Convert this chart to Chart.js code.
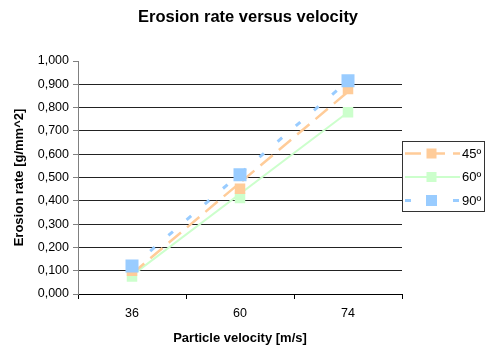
<!DOCTYPE html>
<html>
<head>
<meta charset="utf-8">
<script src="https://cdn.jsdelivr.net/npm/chart.js@4/dist/chart.umd.min.js"></script>
<style>
  html, body { margin: 0; padding: 0; background: #fff; }
  #wrap { width: 485px; height: 350px; position: relative; }
</style>
</head>
<body>
<div id="wrap"><canvas id="chart"></canvas></div>
<script>
const chartTitle = 'Erosion rate versus velocity';
const xTitle = 'Particle velocity [m/s]';
const yTitle = 'Erosion rate [g/mm^2]';

const velocities = ['36', '60', '74'];
const seriesNames = ['45º', '60º', '90º'];

// measured points
const rate45 = [0.100, 0.452, 0.880];
const rate60 = [0.075, 0.412, 0.780];
const rate90 = [0.120, 0.512, 0.915];

// linear trendline ends (middle left empty)
const trend45 = [0.087, null, 0.868];
const trend60 = [0.080, null, 0.780];
const trend90 = [0.117, null, 0.914];

const yMin = 0, yMax = 1, yStep = 0.1;

const colors = ['#FFCC99', '#CCFFCC', '#99CCFF'];
const dashes = [[16, 8], [], [6, 18]];
const lineWidths = [2.5, 2, 3];
const markerSizes = [10.5, 10.5, 13];

const FONT = '"Liberation Sans", Arial, sans-serif';

function markerSet(i, data, order) {
    return {
        label: seriesNames[i],
        data: data,
        showLine: false,
        pointStyle: 'rect',
        pointRadius: markerSizes[i] / (2 * Math.SQRT1_2),
        pointHoverRadius: markerSizes[i] / (2 * Math.SQRT1_2),
        backgroundColor: colors[i],
        borderColor: colors[i],
        borderWidth: 0,
        order: order
    };
}

function trendSet(i, data) {
    return {
        label: seriesNames[i] + ' trend',
        data: data,
        pointRadius: 0,
        borderColor: colors[i],
        borderWidth: lineWidths[i],
        borderDash: dashes[i],
        spanGaps: true,
        tension: 0,
        fill: false,
        order: 10
    };
}

const extras = {
    id: 'extras',
    afterDraw(chart) {
        const ctx = chart.ctx;
        ctx.save();
        // title
        ctx.fillStyle = '#000';
        ctx.font = 'bold 16.5px ' + FONT;
        ctx.textAlign = 'center';
        ctx.textBaseline = 'alphabetic';
        ctx.fillText(chartTitle, 248, 22);

        // legend box
        ctx.strokeStyle = '#333';
        ctx.lineWidth = 1;
        ctx.strokeRect(402.5, 141.5, 82, 70);

        const rows = [153.5, 177, 200.5];
        ctx.font = '13px ' + FONT;
        ctx.textAlign = 'left';
        ctx.textBaseline = 'middle';
        rows.forEach((y, i) => {
            ctx.beginPath();
            ctx.setLineDash(dashes[i]);
            ctx.strokeStyle = colors[i];
            ctx.lineWidth = lineWidths[i];
            ctx.moveTo(405, y);
            ctx.lineTo(460, y);
            ctx.stroke();
            ctx.setLineDash([]);
            ctx.fillStyle = colors[i];
            const s = i === 2 ? 11 : 10;
            ctx.fillRect(431.5 - s / 2, y - s / 2, s, s);
            ctx.fillStyle = '#000';
            ctx.fillText(seriesNames[i], 462, y + 0.5);
        });
        ctx.restore();
    }
};

new Chart(document.getElementById('chart').getContext('2d'), {
    type: 'line',
    data: {
        labels: velocities,
        datasets: [
            markerSet(2, rate90, 1),
            markerSet(0, rate45, 2),
            markerSet(1, rate60, 3),
            trendSet(0, trend45),
            trendSet(1, trend60),
            trendSet(2, trend90)
        ]
    },
    options: {
        responsive: true,
        maintainAspectRatio: false,
        animation: false,
        devicePixelRatio: 1,
        layout: { padding: { top: 61, right: 83, left: 0, bottom: 0 } },
        plugins: {
            legend: { display: false },
            title: { display: false },
            tooltip: { enabled: false }
        },
        scales: {
            x: {
                type: 'category',
                offset: true,
                grid: {
                    offset: true,
                    drawOnChartArea: false,
                    drawTicks: true,
                    tickLength: 5,
                    color: '#000',
                    tickColor: '#000'
                },
                border: { color: '#000', width: 1 },
                ticks: {
                    color: '#000',
                    font: { family: FONT, size: 12.5 },
                    padding: 7
                },
                title: {
                    display: true,
                    text: xTitle,
                    color: '#000',
                    font: { family: FONT, size: 13, weight: 'bold' },
                    padding: { top: 0, bottom: 4 }
                },
                afterFit: function(scale) { scale.height = 56; }
            },
            y: {
                min: yMin,
                max: yMax,
                ticks: {
                    stepSize: yStep,
                    color: '#000',
                    font: { family: FONT, size: 12.5 },
                    padding: 4,
                    callback: function(value) {
                        return value.toFixed(3).replace('.', ',');
                    }
                },
                grid: {
                    color: function(c) {
                        return c.tick && c.tick.value >= yMax ? 'rgba(0,0,0,0)' : '#222';
                    },
                    tickColor: '#808080',
                    tickLength: 5
                },
                border: { color: '#808080', width: 1 },
                title: {
                    display: true,
                    text: yTitle,
                    color: '#000',
                    font: { family: FONT, size: 13, weight: 'bold' },
                    padding: { top: 12, bottom: 0 }
                },
                afterFit: function(scale) { scale.width = 78; }
            }
        }
    },
    plugins: [extras]
});
</script>
</body>
</html>
